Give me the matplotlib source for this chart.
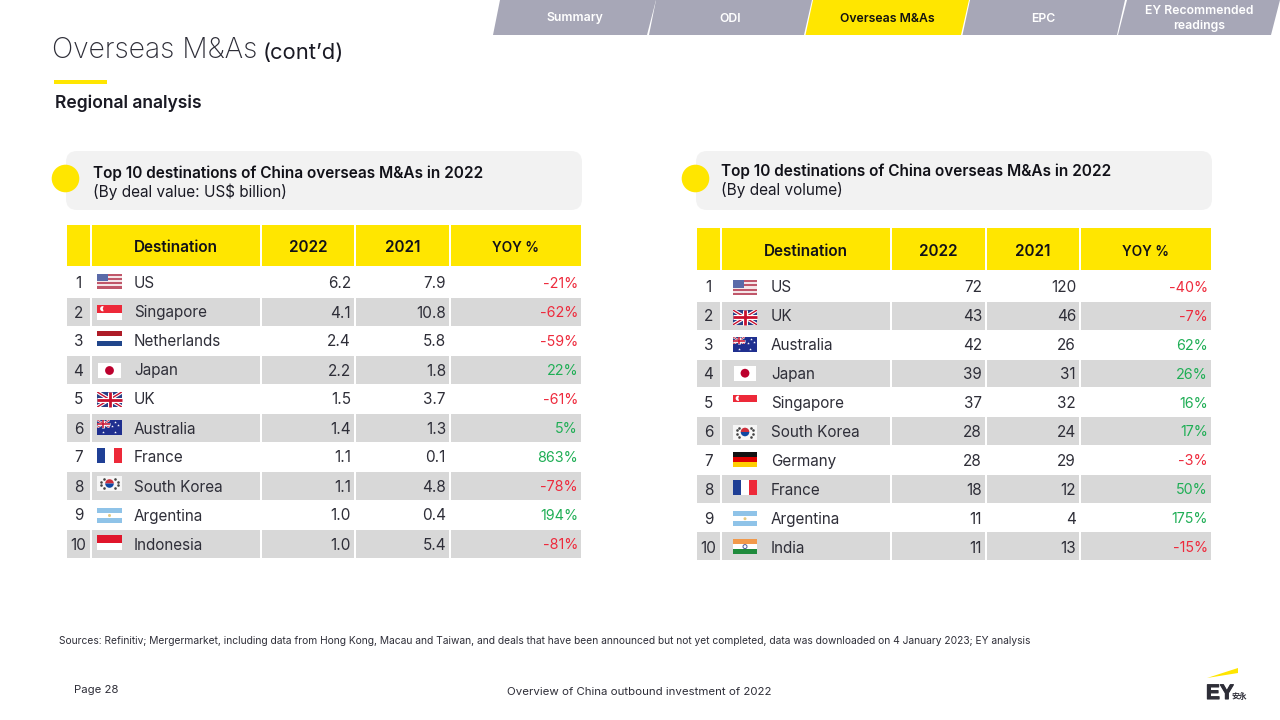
import matplotlib
matplotlib.use("Agg")
import matplotlib.pyplot as plt
import matplotlib.patheffects as pe
from matplotlib.patches import Rectangle, Polygon, Circle, FancyBboxPatch, Wedge

# ---------- data ----------
tabs = ["Summary", "ODI", "Overseas M&As", "EPC", "EY Recommended\nreadings"]
headers = ["Destination", "2022", "2021", "YOY %"]

value_countries = ["US", "Singapore", "Netherlands", "Japan", "UK", "Australia",
                   "France", "South Korea", "Argentina", "Indonesia"]
value_2022 = ["6.2", "4.1", "2.4", "2.2", "1.5", "1.4", "1.1", "1.1", "1.0", "1.0"]
value_2021 = ["7.9", "10.8", "5.8", "1.8", "3.7", "1.3", "0.1", "4.8", "0.4", "5.4"]
value_yoy = ["-21%", "-62%", "-59%", "22%", "-61%", "5%", "863%", "-78%", "194%", "-81%"]

volume_countries = ["US", "UK", "Australia", "Japan", "Singapore", "South Korea",
                    "Germany", "France", "Argentina", "India"]
volume_2022 = ["72", "43", "42", "39", "37", "28", "28", "18", "11", "11"]
volume_2021 = ["120", "46", "26", "31", "32", "24", "29", "12", "4", "13"]
volume_yoy = ["-40%", "-7%", "62%", "26%", "16%", "17%", "-3%", "50%", "175%", "-15%"]

# ---------- style ----------
FONT = "Inter"
YEL = "#ffe600"
INK = "#2e2e38"
GREY = "#d8d8d8"
PANEL = "#f2f2f2"
TAB = "#a7a7b7"
RED = "#ee2a3c"
GREEN = "#1fae55"
plt.rcParams["font.family"] = [FONT, "Noto Sans CJK SC", "DejaVu Sans"]

fig = plt.figure(figsize=(12.8, 7.2), dpi=100, facecolor="white")
ax = fig.add_axes([0, 0, 1, 1])
ax.set_xlim(0, 1280)
ax.set_ylim(720, 0)
ax.axis("off")


def T(x, y, s, size=11, color=INK, ha="left", va="center", weight="normal", **kw):
    return ax.text(x, y, s, fontsize=size, color=color, ha=ha, va=va,
                   fontweight=weight, **kw)


def R(x0, y0, x1, y1, color, z=2, **kw):
    p = Rectangle((x0, y0), x1 - x0, y1 - y0, facecolor=color, edgecolor="none", zorder=z, **kw)
    ax.add_patch(p)
    return p


# ---------- flags ----------
def stripes_h(x, y, w, h, cols, z=3):
    n = len(cols)
    for i, c in enumerate(cols):
        R(x, y + h * i / n, x + w, y + h * (i + 1) / n, c, z)


def stripes_v(x, y, w, h, cols, z=3):
    n = len(cols)
    for i, c in enumerate(cols):
        R(x + w * i / n, y, x + w * (i + 1) / n, y + h, c, z)


def union_jack(x, y, w, h, z=3, lw=1.0):
    base = R(x, y, x + w, y + h, "#2a3f86", z)
    for (a, b, c, d) in [(x, y, x + w, y + h), (x, y + h, x + w, y)]:
        for col, k in (("white", 2.6), ("#c8102e", 1.0)):
            l, = ax.plot([a, c], [b, d], color=col, lw=lw * k, zorder=z + 0.1, solid_capstyle="butt")
            l.set_clip_path(base)
    for col, k in (("white", 3.6), ("#c8102e", 2.0)):
        ax.plot([x, x + w], [y + h / 2] * 2, color=col, lw=lw * k, zorder=z + 0.2, solid_capstyle="butt")
        ax.plot([x + w / 2] * 2, [y, y + h], color=col, lw=lw * k, zorder=z + 0.2, solid_capstyle="butt")


def flag(name, cx, cy):
    w, h = 24.5, 15.0
    x, y = cx - w / 2, cy - h / 2
    if name == "US":
        stripes_h(x, y, w, h, ["#c0576a", "#f4e6e8"] * 3 + ["#c0576a"])
        R(x, y, x + w * 0.45, y + h * 0.52, "#5a6aa8", 3.5)
    elif name == "Singapore":
        stripes_h(x, y, w, h, ["#ed2939", "white"])
        ax.add_patch(Wedge((x + 5.5, y + 3.7), 2.6, 70, 290, facecolor="white", edgecolor="none", zorder=3.5))
    elif name == "Netherlands":
        stripes_h(x, y, w, h, ["#ae1c28", "white", "#21468b"])
    elif name == "Indonesia":
        stripes_h(x, y, w, h, ["#e0162b", "white"])
    elif name == "Japan":
        R(x + 1, y, x + w - 1, y + h, "white")
        ax.add_patch(Circle((cx, cy), 4.4, facecolor="#bc002d", edgecolor="none", zorder=3.5))
    elif name == "UK":
        union_jack(x, y, w, h)
    elif name == "Australia":
        R(x, y, x + w, y + h, "#1f2f8f")
        union_jack(x, y, w * 0.5, h * 0.5, z=3.2, lw=0.55)
        sx = [0.25, 0.72, 0.62, 0.85, 0.74]
        sy = [0.78, 0.82, 0.42, 0.36, 0.15]
        ax.scatter([x + w * a for a in sx], [y + h * b for b in sy], s=4, c="white",
                   marker="*", linewidths=0, zorder=3.6)
    elif name == "France":
        stripes_v(x, y, w, h, ["#1f3f95", "white", "#ed2939"])
    elif name == "South Korea":
        R(x, y, x + w, y + h, "#f6f6f6")
        ax.add_patch(Wedge((cx, cy), 4.3, 180, 360, facecolor="#cd2e3a", edgecolor="none", zorder=3.5))
        ax.add_patch(Wedge((cx, cy), 4.3, 0, 180, facecolor="#0f47a1", edgecolor="none", zorder=3.5))
        ax.scatter([x + a * w for a in (0.17, 0.26, 0.74, 0.83, 0.17, 0.26, 0.74, 0.83)],
                   [y + b * h for b in (0.38, 0.2, 0.2, 0.38, 0.62, 0.8, 0.8, 0.62)],
                   s=3.5, c="#444444", linewidths=0, zorder=3.5)
    elif name == "Argentina":
        stripes_h(x, y, w, h, ["#8fc3e8", "white", "#8fc3e8"])
        ax.add_patch(Circle((cx, cy), 1.5, facecolor="#e3c982", edgecolor="none", zorder=3.5))
    elif name == "Germany":
        stripes_h(x, y, w, h, ["#111111", "#dd0000", "#ffce00"])
    elif name == "India":
        stripes_h(x, y, w, h, ["#f2994a", "white", "#1f8a3c"])
        ax.add_patch(Circle((cx, cy), 2.0, facecolor="none", edgecolor="#4a5a9a", lw=0.7, zorder=3.5))


# ---------- nav tabs ----------
tab_geom = [(493, 647, 500, 656), (649, 804, 656, 812), (805.5, 961, 813, 969),
            (962.5, 1117, 970, 1125), (1118, 1271, 1127, 1280)]
for i, (label, (bl, br, tl, tr)) in enumerate(zip(tabs, tab_geom)):
    on = i == 2
    ax.add_patch(Polygon([(bl, 35), (br, 35), (tr, 0), (tl, 0)], closed=True,
                         facecolor=YEL if on else TAB, edgecolor="none", zorder=2))
    T((bl + tr) / 2, 18.5, label, size=8.8, color="#111111" if on else "white",
      ha="center", weight="semibold", linespacing=1.35, zorder=3)

# ---------- title ----------
T(52, 50.5, "Overseas M&As", size=20.3, color="#2e2e38", weight="light")
T(263, 52.5, "(cont\u2019d)", size=15.8, color="#1a1a24")
R(54, 80, 107, 84, YEL)
T(55, 103.5, "Regional analysis", size=12.6, color="#1a1a24", weight="semibold")


# ---------- panels + tables ----------
def panel(x0, x1, y0, y1, cx, cy, tx, ty1, ty2, sub):
    ax.add_patch(FancyBboxPatch((x0 + 11, y0 + 11), x1 - x0 - 22, y1 - y0 - 22,
                                boxstyle="round,pad=11,rounding_size=11",
                                facecolor=PANEL, edgecolor="none", zorder=1))
    ax.add_patch(Circle((cx, cy), 13.8, facecolor=YEL, edgecolor="none", zorder=2))
    T(tx, ty1, "Top 10 destinations of China overseas M&As in 2022", size=11.1,
      color="#111118", weight="semibold")
    T(tx, ty2, sub, size=11.05, color="#1a1a24")


def table(x_edges, head_y, row_top, row_step, row_h, text_y0, text_step, countries,
          y22, y21, yoy, flag_cx, flag_dy, name_dx):
    cols = x_edges
    for (a, b) in cols:
        R(a, head_y[0], b, head_y[1], YEL)
    hy = sum(head_y) / 2 + 2.5
    T(cols[1][0] + 42, hy, headers[0], size=11.0, color="#111118", weight="semibold")
    T((cols[2][0] + cols[2][1]) / 2, hy, headers[1], size=11.0, color="#111118", weight="semibold", ha="center")
    T((cols[3][0] + cols[3][1]) / 2, hy, headers[2], size=11.0, color="#111118", weight="semibold", ha="center")
    T((cols[4][0] + cols[4][1]) / 2, hy, headers[3], size=9.8, color="#111118", weight="semibold", ha="center")
    for i, c in enumerate(countries):
        top = row_top + row_step * i
        if i % 2 == 1:
            for (a, b) in cols:
                R(a, top, b, top + row_h, GREY)
        y = text_y0 + text_step * i
        T((cols[0][0] + cols[0][1]) / 2, y, str(i + 1), size=11, ha="center")
        flag(c, flag_cx, y + flag_dy[i])
        T(cols[1][0] + name_dx, y, c, size=11)
        T(cols[2][1] - 3, y, y22[i], size=11, ha="right")
        T(cols[3][1] - 3, y, y21[i], size=11, ha="right")
        col = RED if yoy[i].startswith("-") else GREEN
        T(cols[4][1] - 3, y, yoy[i], size=10.3, ha="right", color=col)


panel(66, 582, 151, 210, 65.5, 178.5, 93, 173, 192, "(By deal value: US$ billion)")
panel(696, 1212, 151, 210, 695.5, 178.5, 721, 171, 190, "(By deal volume)")

table([(67, 90), (92, 260), (262, 354), (356, 449), (451, 581)], (225, 266), 269, 29, 28,
      284, 29, value_countries, value_2022, value_2021, value_yoy, 109.5,
      [-3, -0.5, -3.5, -0.5, -0.5, -1.5, -2.5, -3.5, -0.5, -2.5], 42)
table([(697, 720), (722, 890), (892, 985), (987, 1079), (1081, 1211)], (228, 270), 273.2, 28.8, 27.8,
      288, 28.9, volume_countries, volume_2022, volume_2021, volume_yoy, 745,
      [-0.5, 0.5, -1.5, -1.5, -1.5, -0.5, -1.5, -2.5, -0.5, -1.5], 49)

# ---------- footer ----------
T(59, 641, "Sources: Refinitiv; Mergermarket, including data from Hong Kong, Macau and Taiwan, and deals that have been "
           "announced but not yet completed, data was downloaded on 4 January 2023; EY analysis", size=7.37, color="#2e2e38")
T(74, 690, "Page 28", size=8.2, color="#2e2e38")
T(507, 692, "Overview of China outbound investment of 2022", size=8.25, color="#2e2e38")

ax.add_patch(Polygon([(1207, 678), (1238, 668), (1238, 673)], closed=True,
                     facecolor=YEL, edgecolor="none", zorder=3))
ey = T(1206, 693.5, "EY", size=15, color="#2e2e38", weight="bold", family="Liberation Sans")
ey.set_path_effects([pe.withStroke(linewidth=0.8, foreground="#2e2e38")])
T(1232, 696.5, "安永", size=5.6, color="#2e2e38", weight="bold", family="Noto Sans CJK SC")

fig.savefig("out.png", dpi=100, facecolor="white")
